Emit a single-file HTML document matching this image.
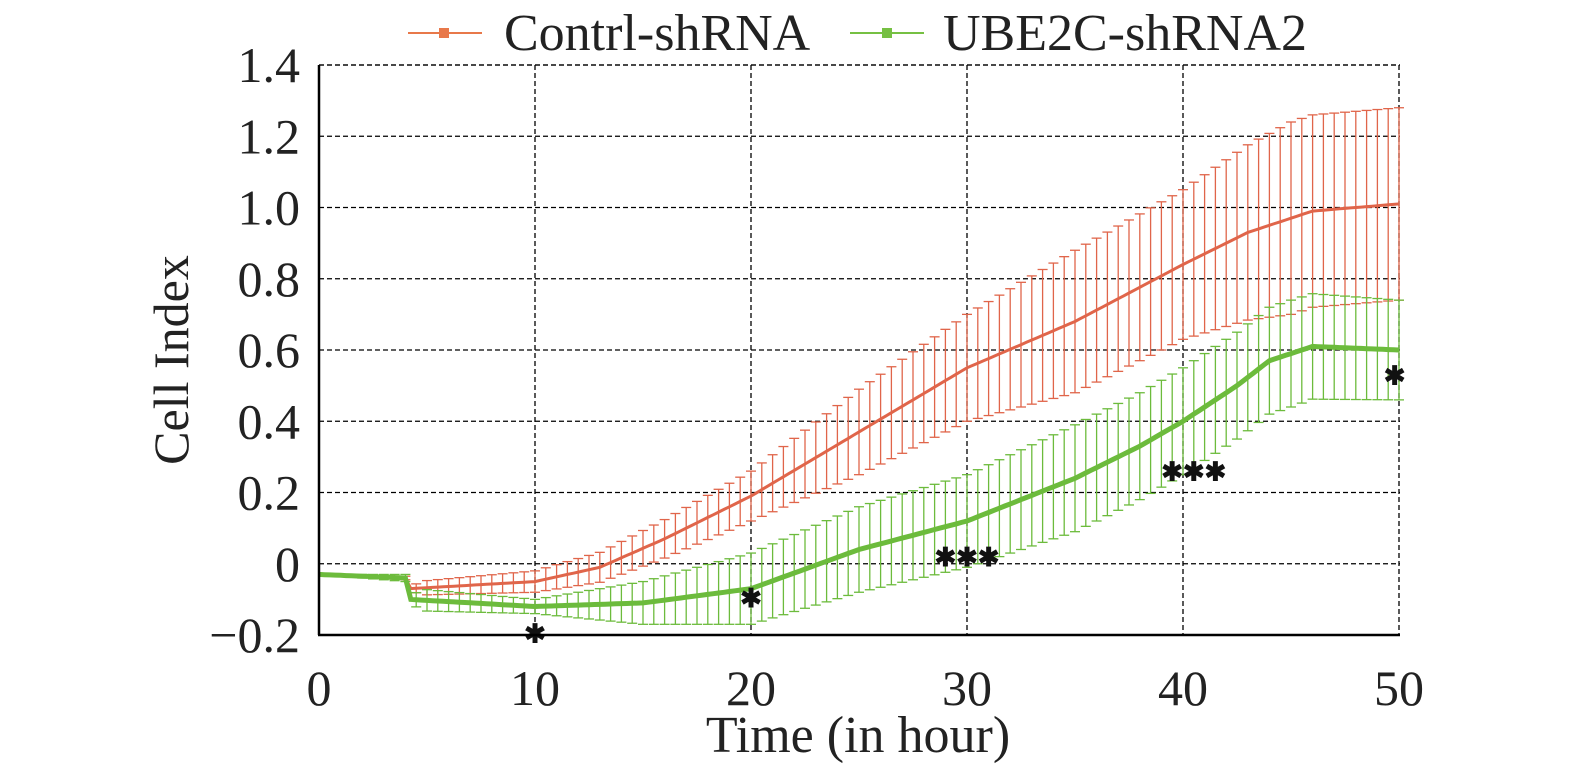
<!DOCTYPE html>
<html><head><meta charset="utf-8"><style>
html,body{margin:0;padding:0;background:#fff;}
svg{display:block;font-family:"Liberation Serif",serif;}
</style></head><body>
<svg id="s" width="1575" height="765" xmlns="http://www.w3.org/2000/svg">
<g id="grid" stroke="#000" stroke-width="1.3" stroke-dasharray="5,3"></g>
<g id="data"></g>
<line x1="319" y1="65" x2="319" y2="635" stroke="#000" stroke-width="2.5"/>
<line x1="318" y1="635" x2="1400" y2="635" stroke="#000" stroke-width="2.5"/>
<g id="labels" font-size="50" fill="#222"></g>
<text x="188" y="360" font-size="50" fill="#222" text-anchor="middle" transform="rotate(-90 188 360)">Cell Index</text>
<text x="858" y="752" font-size="52" fill="#222" text-anchor="middle">Time (in hour)</text>
<line x1="408" y1="33" x2="482" y2="33" stroke="#e8784a" stroke-width="2"/>
<rect x="439" y="28" width="10" height="10" fill="#e8784a"/>
<text x="504" y="50" font-size="52" fill="#222">Contrl-shRNA</text>
<line x1="850" y1="33" x2="924" y2="33" stroke="#76c043" stroke-width="2"/>
<rect x="882" y="28" width="10" height="10" fill="#76c043"/>
<text x="943" y="50" font-size="52" fill="#222">UBE2C-shRNA2</text>
</svg>
<script>
const NS="http://www.w3.org/2000/svg";
const X=h=>319+h*21.6, Y=v=>635-(v+0.2)*356.25;
function el(p,t,a,txt){const e=document.createElementNS(NS,t);for(const k in a)e.setAttribute(k,a[k]);if(txt!==undefined)e.textContent=txt;p.appendChild(e);return e;}
function interp(pts,x){for(let i=1;i<pts.length;i++){if(x<=pts[i][0]){const [a,b]=pts[i-1],[c,d]=pts[i];return b+(d-b)*(x-a)/(c-a);}}return pts[pts.length-1][1];}
const g=document.getElementById('grid');
for(let v=-0.2;v<=1.41;v+=0.2){if(v>-0.1)el(g,'line',{x1:319,x2:1400,y1:Y(v),y2:Y(v)});}
for(let h=10;h<=50;h+=10)el(g,'line',{x1:X(h),x2:X(h),y1:65,y2:635});
el(g,'line',{x1:319,x2:1400,y1:65,y2:65});
const L=document.getElementById('labels');
const yl=["\u22120.2","0","0.2","0.4","0.6","0.8","1.0","1.2","1.4"];
yl.forEach((t,i)=>el(L,'text',{x:300,y:Y(-0.2+0.2*i)+17,'text-anchor':'end'},t));
for(let h=0;h<=50;h+=10)el(L,'text',{x:X(h),y:705,'text-anchor':'middle'},String(h));
const rm=[[0,-0.03],[4,-0.04],[4.2,-0.07],[10,-0.05],[13,-0.01],[16,0.07],[20,0.19],[25,0.37],[30,0.55],[35,0.68],[40,0.84],[43,0.93],[46,0.99],[50,1.01]];
const re=[[0,0],[4,0.005],[5,0.02],[10,0.03],[15,0.05],[20,0.07],[25,0.12],[30,0.15],[35,0.2],[40,0.21],[45,0.27],[50,0.27]];
const gm=[[0,-0.03],[4,-0.04],[4.2,-0.1],[10,-0.12],[15,-0.11],[20,-0.07],[25,0.04],[30,0.12],[35,0.24],[38,0.33],[40,0.4],[42.5,0.5],[44,0.57],[46,0.61],[50,0.6]];
const ge=[[0,0],[4,0.01],[5,0.03],[10,0.02],[15,0.06],[20,0.1],[25,0.12],[30,0.13],[35,0.15],[40,0.15],[45,0.15],[50,0.14]];
const D=document.getElementById('data');
function series(m,e,col,w){
 let d="";
 for(let h=0;h<=50.001;h+=0.5){const v=interp(m,h),er=interp(e,h),x=X(h);
  if(er>0.004){el(D,'line',{x1:x,x2:x,y1:Y(v-er),y2:Y(v+er),stroke:col,'stroke-width':1.3});
   el(D,'line',{x1:x-5,x2:x+5,y1:Y(v+er),y2:Y(v+er),stroke:col,'stroke-width':1.3});
   el(D,'line',{x1:x-5,x2:x+5,y1:Y(v-er),y2:Y(v-er),stroke:col,'stroke-width':1.3});}
 }
 for(let h=0;h<=50.001;h+=0.25){d+=(h?"L":"M")+X(h).toFixed(1)+","+Y(interp(m,h)).toFixed(1);}
 el(D,'path',{d:d,fill:'none',stroke:col,'stroke-width':w});
}
series(rm,re,'#e0654a',3);
series(gm,ge,'#6cbb3c',5);
[[10,-0.185],[20,-0.085],[29,0.03],[30,0.03],[31,0.03],[39.5,0.27],[40.5,0.27],[41.5,0.27],[49.8,0.54]].forEach(([h,v])=>{
 el(D,'text',{x:X(h),y:Y(v)+13,'font-size':26,'font-weight':'bold','text-anchor':'middle',fill:'#111','font-family':'Liberation Sans, sans-serif'},'\u2731');
});
</script>
</body></html>
